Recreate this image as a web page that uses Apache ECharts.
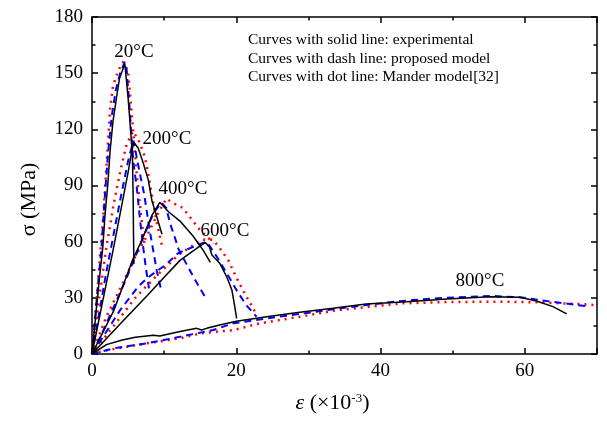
<!DOCTYPE html>
<html>
<head>
<meta charset="utf-8">
<script src="https://cdn.jsdelivr.net/npm/echarts@6/dist/echarts.min.js"></script>
<style>
html,body{margin:0;padding:0;background:#fff}
#chart{width:607px;height:425px}
</style>
</head>
<body>
<div id="chart"></div>
<script>
// strain (x10^-3), stress (MPa)
var exp20 = [[0,0],[0.6,24],[1.1,43],[1.5,57],[1.8,74],[2.2,91],[2.5,108],[2.9,124],[3.4,137],[3.8,147],[4.55,155],[5.0,137],[5.4,117],[5.6,106],[5.7,85],[5.75,65],[5.8,48]];
var pro20 = [[0,0],[0.4,18],[0.9,40],[1.3,56],[1.7,80],[2.2,106],[2.7,126],[3.3,141],[3.9,150],[4.55,156],[4.8,152],[5.0,142],[5.25,129],[5.45,117],[5.75,102],[6.2,89],[6.65,72],[7.1,57],[7.5,45],[7.9,35]];
var man20 = [[0,0],[0.4,18],[0.8,36],[1.1,52],[1.5,70],[1.8,88],[2.1,106],[2.5,130],[2.9,143],[3.6,151],[4.3,156],[5.0,151],[5.45,131],[5.9,110],[6.3,92],[6.8,74],[7.3,58]];

var exp200 = [[0,0],[1,19],[2,38],[3,57],[4,77],[5,97],[5.5,108],[5.8,113],[6.4,110],[7.1,102],[7.8,93],[8.3,82],[9.0,73],[9.7,64]];
var pro200 = [[0,0],[1,22],[2,44],[3,64],[4,84],[5,103],[5.75,114],[6.1,107],[6.6,97],[7.2,86],[7.6,76],[8.0,66],[8.5,55],[9.0,44],[9.6,34]];
var man200 = [[0,0],[1,30],[2,57],[3,80],[4,99],[4.8,112],[5.7,119],[6.6,113],[7.35,105],[7.8,96],[8.2,87],[8.6,78],[9.0,70],[9.4,63],[9.8,56]];

var exp400 = [[0,0],[3.0,23],[5.7,51],[6.7,59],[8.3,74],[9.4,81],[10.6,76],[12.2,71],[14.0,63],[15.4,55.5],[16.4,49]];
var pro400 = [[0,0],[1.5,12],[3,25],[4.5,38],[6,52],[7.5,66],[8.5,75],[9.6,81],[10.3,78],[10.8,70],[11.5,62],[12.0,56],[13.1,48],[14.3,39.5],[15.9,29]];
var man400 = [[0,0],[2,20],[4.3,38],[6,52],[7.6,63],[9.0,74],[10.3,83],[11.3,80.5],[12.6,78],[13.6,73],[15,66],[16.4,61],[16.8,59]];

var exp600 = [[0,0],[3.9,16],[7.6,31],[10,41],[12.2,50],[14.7,57],[15.7,59.5],[16.3,57],[16.6,53],[17.7,48.5],[18.7,41],[19.4,34],[19.8,25],[20.05,19]];
var pro600 = [[0,0],[2,12],[4,24],[6.4,36],[7.8,41],[10,47],[12,54],[14.5,58],[15.9,60],[17.3,52],[18.7,43],[20.05,34],[21.4,26],[22.8,20]];
var man600 = [[0,0],[3,15],[6,30],[9,42],[12,53],[15.2,61],[16.8,61],[18,55],[18.9,50],[20,41],[21.2,32],[22.4,24],[22.8,20]];

var exp800 = [[0,0],[2,5],[4.2,7.5],[6,9],[8.5,10],[9.4,9.6],[12.2,12],[14.5,13.7],[15.2,12.8],[15.9,13.7],[17.7,15.5],[20,17.5],[24.2,19.9],[28.8,22.3],[33.4,24.4],[38,26.7],[43.6,27.9],[49.2,29.4],[55.2,30.6],[59.3,30.3],[61.6,28.3],[63.9,25.3],[65.8,21.4]];
var pro800 = [[0,0],[3,3],[7.6,5.7],[12.2,9.2],[16.8,12.8],[19.6,16.4],[24.2,19],[28.8,21.4],[34.4,24.4],[41.8,27.9],[44.5,28.8],[49.2,30.1],[55.6,31],[59.3,30.3],[63,28.3],[69,25.3]];
var man800 = [[0,0],[2,2],[7.6,5.7],[12.2,8.4],[15,11],[19.6,12.8],[23.3,16.4],[28.8,19.9],[33.4,23.1],[42.7,27],[49.2,27.8],[57,27.9],[61.6,27.6],[67.6,26.7],[69.5,26.2]];

var tempLabels = ['20°C', '200°C', '400°C', '600°C', '800°C'];
var notes = ['Curves with solid line: experimental', 'Curves with dash line: proposed model', 'Curves with dot line: Mander model[32]'];

var serif = 'Liberation Serif, Times New Roman, serif';
var chart = echarts.init(document.getElementById('chart'));

function line(name, data, kind) {
    var st;
    if (kind == 'man') st = {color: '#ff0000', width: 2.5, type: [2, 5]};
    else if (kind == 'pro') st = {color: '#0000ff', width: 2, type: [7, 5]};
    else st = {color: '#000000', width: 1.5, type: 'solid'};
    return {
        name: name, type: 'line', data: data, showSymbol: false, symbol: 'none',
        xAxisIndex: 0, yAxisIndex: 0, lineStyle: st, itemStyle: {color: st.color},
        z: kind == 'exp' ? 4 : (kind == 'pro' ? 3 : 2), silent: true
    };
}

var series = [
    line('man20', man20, 'man'), line('man200', man200, 'man'), line('man400', man400, 'man'), line('man600', man600, 'man'), line('man800', man800, 'man'),
    line('pro20', pro20, 'pro'), line('pro200', pro200, 'pro'), line('pro400', pro400, 'pro'), line('pro600', pro600, 'pro'), line('pro800', pro800, 'pro'),
    line('exp20', exp20, 'exp'), line('exp200', exp200, 'exp'), line('exp400', exp400, 'exp'), line('exp600', exp600, 'exp'), line('exp800', exp800, 'exp')
];

var axLine = {onZero: false, lineStyle: {color: '#000', width: 1.5}};
var tick = {show: true, inside: true, length: 6, lineStyle: {color: '#000', width: 1.5}};
var minor = {show: true, splitNumber: 2, length: 3.5, lineStyle: {color: '#000', width: 1.5}};

var tempPos = [[134, 52], [167, 139], [183, 189], [225, 231], [480, 281]];
var graphics = [];
tempLabels.forEach(function (t, i) {
    graphics.push({type: 'text', x: tempPos[i][0], y: tempPos[i][1], z: 10,
        style: {text: t, fill: '#000', font: '19px ' + serif, textAlign: 'center', textVerticalAlign: 'middle'}});
});
notes.forEach(function (t, i) {
    graphics.push({type: 'text', x: 248, y: 40 + i * 18.5, z: 10,
        style: {text: t, fill: '#000', font: '15.5px ' + serif, textAlign: 'left', textVerticalAlign: 'middle'}});
});

var option = {
    animation: false,
    backgroundColor: '#fff',
    grid: {left: 92, right: 10, top: 17, bottom: 71},
    xAxis: [{
        type: 'value', min: 0, max: 70, interval: 20,
        name: '{e|ε} (×10{s|-3})', nameLocation: 'middle', nameGap: 38,
        nameTextStyle: {color: '#000', fontSize: 22, fontFamily: serif, padding: [0, 24, 0, 0],
            rich: {e: {fontStyle: 'italic', fontSize: 22, fontFamily: serif, color: '#000'},
                   s: {fontSize: 13, fontFamily: serif, color: '#000', verticalAlign: 'top', lineHeight: 12}}},
        axisLine: axLine, axisTick: tick, minorTick: minor, splitLine: {show: false},
        axisLabel: {color: '#000', fontSize: 19, fontFamily: serif, margin: 8, showMaxLabel: false}
    }, {
        type: 'value', position: 'top', min: 0, max: 70, interval: 20,
        axisLine: axLine, axisTick: tick, minorTick: minor, splitLine: {show: false},
        axisLabel: {show: false}
    }],
    yAxis: [{
        type: 'value', min: 0, max: 180, interval: 30,
        name: 'σ (MPa)', nameLocation: 'middle', nameGap: 52,
        nameTextStyle: {color: '#000', fontSize: 22, fontFamily: serif, padding: [0, 28, 0, 0]},
        axisLine: axLine, axisTick: tick, minorTick: minor, splitLine: {show: false},
        axisLabel: {color: '#000', fontSize: 19, fontFamily: serif, margin: 9}
    }, {
        type: 'value', position: 'right', min: 0, max: 180, interval: 30,
        axisLine: axLine, axisTick: tick, minorTick: minor, splitLine: {show: false},
        axisLabel: {show: false}
    }],
    graphic: graphics,
    series: series
};
chart.setOption(option);
</script>
</body>
</html>
